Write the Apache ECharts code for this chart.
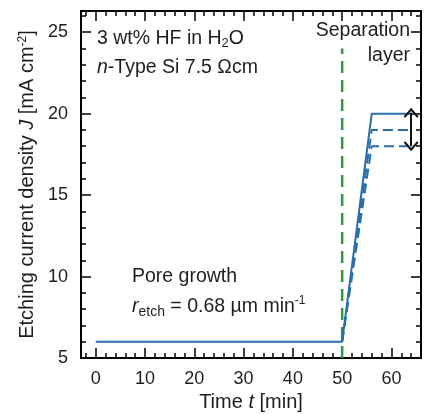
<!DOCTYPE html>
<html>
<head>
<meta charset="utf-8">
<script src="https://cdn.jsdelivr.net/npm/echarts@6/dist/echarts.min.js"></script>
<style>
  html, body { margin: 0; padding: 0; background: #fff; }
  #chart { width: 428px; height: 414px; }
</style>
</head>
<body>
<div id="chart"></div>
<script>
// data
const solidT = [0, 50, 56, 64]
const solidJ = [6, 6, 20, 20]
const dash1T = [50, 56, 64]
const dash1J = [6, 19, 19]
const dash2T = [50, 56, 64]
const dash2J = [6, 18, 18]
const sepT = [50, 50]
const sepJ = [5, 24]
const arrowT = [64, 64]
const arrowJ = [20.05, 18]
const xMajor = [0, 10, 20, 30, 40, 50, 60]
const xMinor = [-2, 2, 4, 6, 8, 12, 14, 16, 18, 22, 24, 26, 28, 32, 34, 36, 38, 42, 44, 46, 48, 52, 54, 56, 58, 62, 64]

const zip = (a, b) => a.map((v, i) => [v, b[i]])

const font = 'Liberation Sans, Arial, sans-serif'
const txt = '#1e1e1e'
const blue = '#2a6eaa'
const green = '#2e9a3c'
const chevron = 'path://M-7,8 L0,0 L7,8 L5.5,9.3 L0,3 L-5.5,9.3 Z'

const chart = echarts.init(document.getElementById('chart'))

const xBase = {
  type: 'value', min: -3, max: 66,
  axisLine: { show: false, onZero: false },
  splitLine: { show: false },
  axisLabel: { show: false }
}
const yBase = {
  type: 'value', min: 5, max: 26.3, interval: 5,
  axisLine: { show: false, onZero: false },
  splitLine: { show: false }
}

const option = {
  animation: false,
  grid: {
    left: 81, right: 7, top: 11, bottom: 56,
    show: true, borderColor: '#000', borderWidth: 2,
    outerBoundsMode: 'none'
  },
  xAxis: [
    Object.assign({}, xBase, {
      position: 'bottom',
      name: '{n|Time }{i|t}{n| [min]}',
      nameLocation: 'middle',
      nameGap: 30,
      nameTextStyle: {
        rich: {
          n: { fontFamily: font, fontSize: 20, color: txt },
          i: { fontFamily: font, fontSize: 20, color: txt, fontStyle: 'italic' }
        }
      },
      axisTick: { inside: true, length: 10, lineStyle: { color: '#000', width: 1.5 }, customValues: xMajor },
      axisLabel: { show: true, margin: 12, fontFamily: font, fontSize: 18, color: txt, customValues: xMajor }
    }),
    Object.assign({}, xBase, {
      position: 'bottom',
      axisTick: { inside: true, length: 5, lineStyle: { color: '#000', width: 1.5 }, customValues: xMinor }
    }),
    Object.assign({}, xBase, {
      position: 'top',
      axisTick: { inside: true, length: 10, lineStyle: { color: '#000', width: 1.5 }, customValues: xMajor }
    }),
    Object.assign({}, xBase, {
      position: 'top',
      axisTick: { inside: true, length: 5, lineStyle: { color: '#000', width: 1.5 }, customValues: xMinor }
    })
  ],
  yAxis: [
    Object.assign({}, yBase, {
      position: 'left',
      name: '{n|Etching current density }{i|J}{n| [mA cm}{s|-2}{n|]}',
      nameLocation: 'middle',
      nameGap: 42,
      nameTextStyle: {
        rich: {
          n: { fontFamily: font, fontSize: 20, color: txt },
          i: { fontFamily: font, fontSize: 20, color: txt, fontStyle: 'italic' },
          s: { fontFamily: font, fontSize: 12, color: txt, verticalAlign: 'top' }
        }
      },
      axisTick: { inside: true, length: 10, lineStyle: { color: '#000', width: 1.5 } },
      minorTick: { show: true, splitNumber: 5, length: 5, lineStyle: { color: '#000', width: 1.5 } },
      axisLabel: { margin: 13, fontFamily: font, fontSize: 18, color: txt, showMaxLabel: false }
    }),
    Object.assign({}, yBase, {
      position: 'right',
      axisTick: { inside: true, length: 10, lineStyle: { color: '#000', width: 1.5 } },
      minorTick: { show: true, splitNumber: 5, length: 5, lineStyle: { color: '#000', width: 1.5 } },
      axisLabel: { show: false }
    })
  ],
  series: [
    {
      name: 'separation', type: 'line', data: zip(sepT, sepJ), symbol: 'none',
      lineStyle: { color: green, width: 2.5, type: [12, 7] }
    },
    {
      name: 'J solid', type: 'line', data: zip(solidT, solidJ), symbol: 'none',
      lineStyle: { color: blue, width: 2 }
    },
    {
      name: 'J dashed 1', type: 'line', data: zip(dash1T, dash1J), symbol: 'none',
      lineStyle: { color: blue, width: 2, type: [10, 5] }
    },
    {
      name: 'J dashed 2', type: 'line', data: zip(dash2T, dash2J), symbol: 'none',
      lineStyle: { color: blue, width: 2, type: [10, 5] }
    },
    {
      name: 'arrow', type: 'line', data: [], symbol: 'none',
      markLine: {
        silent: true,
        symbol: [chevron, chevron],
        symbolSize: [15, 10],
        label: { show: false },
        lineStyle: { color: '#111', width: 2, type: 'solid' },
        data: [[{ coord: [arrowT[0], arrowJ[0]] }, { coord: [arrowT[1], arrowJ[1]] }]]
      }
    }
  ],
  graphic: [
    {
      type: 'text', left: 97, top: 29,
      style: {
        text: '{n|3 wt% HF in H}{s|2}{n|O}',
        rich: {
          n: { fontFamily: font, fontSize: 19.5, fill: txt },
          s: { fontFamily: font, fontSize: 13, fill: txt, verticalAlign: 'bottom', padding: [9, 0, 0, 0] }
        }
      }
    },
    {
      type: 'text', left: 97, top: 58,
      style: {
        text: '{i|n}{n|-Type Si 7.5 Ωcm}',
        rich: {
          n: { fontFamily: font, fontSize: 19.5, fill: txt },
          i: { fontFamily: font, fontSize: 19.5, fill: txt, fontStyle: 'italic' }
        }
      }
    },
    {
      type: 'text', right: 18, top: 21,
      style: { text: 'Separation', fontFamily: font, fontSize: 19.5, fill: txt }
    },
    {
      type: 'text', right: 18, top: 46,
      style: { text: 'layer', fontFamily: font, fontSize: 19.5, fill: txt }
    },
    {
      type: 'text', left: 132, top: 267,
      style: { text: 'Pore growth', fontFamily: font, fontSize: 19.5, fill: txt }
    },
    {
      type: 'text', left: 132, top: 295,
      style: {
        text: '{i|r}{b|etch}{n| = 0.68 µm min}{s|-1}',
        rich: {
          n: { fontFamily: font, fontSize: 19.5, fill: txt },
          i: { fontFamily: font, fontSize: 19.5, fill: txt, fontStyle: 'italic' },
          b: { fontFamily: font, fontSize: 14, fill: txt, verticalAlign: 'bottom', padding: [10, 0, 0, 0] },
          s: { fontFamily: font, fontSize: 12, fill: txt, verticalAlign: 'top' }
        }
      }
    }
  ]
}

chart.setOption(option)
</script>
</body>
</html>
